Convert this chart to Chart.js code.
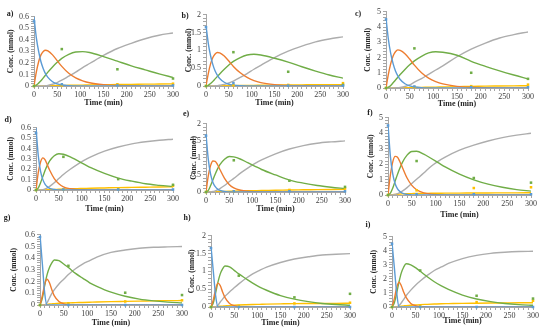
<!DOCTYPE html>
<html><head><meta charset="utf-8">
<script src="https://cdn.jsdelivr.net/npm/chart.js@4.4.0/dist/chart.umd.min.js"></script>
<style>
html,body{margin:0;padding:0;background:#fff;width:550px;height:333px;overflow:hidden;position:relative}
canvas{position:absolute}
.lbl{position:absolute;font:bold 8px "Liberation Serif";color:#222;transform:translate(-50%,-50%);white-space:nowrap}
</style></head><body>
<script>
// time grid of the model curves (min)
const T = [0,5,10,15,20,25,30,40,50,60,75,90,105,120,150,180,210,240,270,300];
// experimental sampling times (min)
const TP = [0,60,180,300];
const xTicks = [0,50,100,150,200,250,300];

// panel a
const aBlue   = [0.6,0.42,0.3,0.21,0.15,0.105,0.075,0.037,0.018,0.009,0.003,0.001,0,0,0,0,0,0,0,0];
const aOrange = [0,0.12,0.21,0.27,0.3,0.31,0.305,0.27,0.22,0.17,0.11,0.07,0.045,0.028,0.012,0.005,0.002,0.001,0,0];
const aGreen  = [0,0.008,0.025,0.045,0.07,0.095,0.12,0.165,0.205,0.24,0.275,0.295,0.298,0.29,0.255,0.215,0.175,0.14,0.105,0.075];
const aGray   = [0,0,0,0,0.001,0.002,0.005,0.015,0.03,0.05,0.085,0.12,0.16,0.195,0.265,0.325,0.37,0.41,0.44,0.46];
const aYellow = [0,0,0,0,0.001,0.001,0.002,0.003,0.004,0.005,0.006,0.007,0.008,0.01,0.011,0.013,0.014,0.016,0.017,0.018];
const aBlueP = [0.56,0.015,0.005,0.005], aGreenP = [0,0.32,0.145,0.065], aYellowP = [0,0.005,0.015,0.02];
// panel b
const bBlue   = [1.7,1.2,0.85,0.6,0.42,0.3,0.21,0.105,0.05,0.025,0.009,0.003,0.001,0,0,0,0,0,0,0];
const bOrange = [0,0.35,0.62,0.8,0.9,0.94,0.93,0.84,0.7,0.55,0.37,0.24,0.15,0.095,0.04,0.015,0.006,0.002,0,0];
const bGreen  = [0,0.02,0.07,0.13,0.2,0.27,0.34,0.47,0.59,0.69,0.8,0.87,0.89,0.87,0.78,0.67,0.54,0.42,0.31,0.22];
const bGray   = [0,0,0,0,0.005,0.01,0.02,0.045,0.085,0.14,0.24,0.35,0.47,0.58,0.8,0.98,1.12,1.24,1.32,1.38];
const bYellow = [0,0,0,0,0.001,0.002,0.003,0.005,0.007,0.009,0.012,0.015,0.018,0.02,0.025,0.03,0.033,0.036,0.038,0.04];
const bBlueP = [1.65,0.08,0.01,0.01], bGreenP = [0,0.95,0.4,0.03], bYellowP = [0,0.02,0.03,0.08];
// panel c
const cBlue   = [4.6,3.2,2.25,1.6,1.12,0.8,0.56,0.28,0.14,0.07,0.025,0.008,0.003,0.001,0,0,0,0,0,0];
const cOrange = [0,0.9,1.6,2.1,2.38,2.5,2.47,2.25,1.9,1.5,1.0,0.65,0.42,0.27,0.11,0.045,0.018,0.007,0.003,0.001];
const cGreen  = [0,0.05,0.17,0.34,0.52,0.7,0.88,1.22,1.52,1.78,2.08,2.3,2.38,2.35,2.15,1.75,1.42,1.12,0.85,0.6];
const cGray   = [0,0,0,0,0.01,0.02,0.04,0.1,0.2,0.38,0.62,0.9,1.18,1.45,2.05,2.55,2.95,3.28,3.5,3.68];
const cYellow = [0,0,0,0.002,0.004,0.006,0.01,0.015,0.02,0.03,0.04,0.05,0.06,0.07,0.09,0.1,0.12,0.13,0.14,0.15];
const cBlueP = [4.5,0.1,0.05,0.05], cGreenP = [0,2.6,1.0,0.6], cYellowP = [0,0.05,0.12,0.22];
// panel d
const dBlue   = [0.6,0.33,0.18,0.1,0.055,0.03,0.016,0.005,0.001,0,0,0,0,0,0,0,0,0,0,0];
const dOrange = [0,0.17,0.27,0.31,0.29,0.24,0.19,0.11,0.06,0.03,0.012,0.005,0.002,0.001,0,0,0,0,0,0];
const dGreen  = [0,0.02,0.07,0.13,0.19,0.24,0.28,0.33,0.35,0.345,0.32,0.285,0.25,0.215,0.16,0.115,0.085,0.06,0.045,0.033];
const dGray   = [0,0,0,0.003,0.01,0.02,0.035,0.07,0.11,0.15,0.2,0.245,0.285,0.32,0.375,0.415,0.445,0.465,0.48,0.49];
const dYellow = [0,0,0,0,0.001,0.002,0.003,0.005,0.007,0.009,0.011,0.013,0.015,0.017,0.02,0.023,0.025,0.027,0.029,0.03];
const dBlueP = [0.55,0.005,0.005,0.005], dGreenP = [0,0.32,0.105,0.05], dYellowP = [0,0.005,0.01,0.04];
// panel e
const eBlue   = [1.7,0.95,0.52,0.28,0.155,0.085,0.047,0.014,0.004,0.001,0,0,0,0,0,0,0,0,0,0];
const eOrange = [0,0.48,0.78,0.91,0.9,0.8,0.66,0.4,0.22,0.12,0.05,0.02,0.008,0.003,0,0,0,0,0,0];
const eGreen  = [0,0.05,0.19,0.36,0.53,0.68,0.8,0.96,1.04,1.03,0.96,0.86,0.76,0.66,0.5,0.35,0.26,0.19,0.14,0.1];
const eGray   = [0,0,0.005,0.015,0.035,0.06,0.1,0.19,0.3,0.4,0.56,0.7,0.83,0.94,1.12,1.26,1.36,1.43,1.47,1.5];
const eYellow = [0,0,0.001,0.003,0.005,0.008,0.01,0.015,0.02,0.025,0.03,0.035,0.04,0.045,0.05,0.06,0.065,0.07,0.075,0.08];
const eBlueP = [1.65,0.02,0.02,0.02], eGreenP = [0,0.93,0.33,0.15], eYellowP = [0,0.02,0.06,0.1];
// panel f
const fBlue   = [4.6,2.5,1.35,0.73,0.4,0.22,0.12,0.035,0.01,0.003,0,0,0,0,0,0,0,0,0,0];
const fOrange = [0,1.3,2.15,2.5,2.45,2.15,1.8,1.1,0.62,0.34,0.14,0.06,0.025,0.01,0.002,0,0,0,0,0];
const fGreen  = [0,0.12,0.45,0.9,1.35,1.75,2.1,2.58,2.82,2.83,2.65,2.38,2.1,1.82,1.35,0.98,0.7,0.5,0.35,0.25];
const fGray   = [0,0,0.01,0.04,0.09,0.16,0.25,0.48,0.75,1.02,1.42,1.85,2.18,2.45,2.9,3.23,3.5,3.72,3.88,4.0];
const fYellow = [0,0.01,0.02,0.04,0.05,0.06,0.07,0.08,0.09,0.1,0.1,0.11,0.11,0.12,0.12,0.13,0.13,0.14,0.14,0.15];
const fBlueP = [4.5,0.05,0.05,0.05], fGreenP = [0,2.2,1.1,0.8], fYellowP = [0,0.3,0.45,0.5];
// panel g
const gBlue   = [0.6,0.35,0.1,0,0,0,0,0,0,0,0,0,0,0,0,0,0,0,0,0];
const gOrange = [0,0.08,0.18,0.22,0.19,0.13,0.08,0.03,0.01,0.003,0,0,0,0,0,0,0,0,0,0];
const gGreen  = [0,0.06,0.17,0.26,0.32,0.36,0.385,0.38,0.35,0.32,0.27,0.23,0.19,0.16,0.11,0.075,0.05,0.035,0.025,0.018];
const gGray   = [0,0,0,0.02,0.06,0.1,0.13,0.18,0.22,0.26,0.31,0.35,0.38,0.41,0.45,0.47,0.485,0.493,0.497,0.5];
const gYellow = [0,0.001,0.003,0.005,0.008,0.01,0.012,0.015,0.017,0.018,0.02,0.022,0.024,0.026,0.029,0.031,0.033,0.035,0.037,0.038];
const gBlueP = [0.58,0,0,0], gGreenP = [0,0.335,0.105,0.085], gYellowP = [0,0.015,0.03,0.04];
// panel h
const hBlue   = [1.7,1.0,0.32,0,0,0,0,0,0,0,0,0,0,0,0,0,0,0,0,0];
const hOrange = [0,0.2,0.5,0.67,0.6,0.42,0.27,0.1,0.04,0.015,0.005,0,0,0,0,0,0,0,0,0];
const hGreen  = [0,0.12,0.4,0.7,0.93,1.07,1.15,1.13,1.03,0.93,0.8,0.67,0.56,0.47,0.32,0.22,0.15,0.1,0.07,0.05];
const hGray   = [0,0,0,0.05,0.14,0.22,0.3,0.42,0.54,0.65,0.8,0.93,1.03,1.12,1.25,1.35,1.41,1.46,1.48,1.5];
const hYellow = [0,0.005,0.01,0.015,0.02,0.025,0.03,0.04,0.048,0.055,0.063,0.07,0.075,0.08,0.088,0.095,0.098,0.1,0.103,0.105];
const hBlueP = [1.65,0,0,0], hGreenP = [0,0.88,0.27,0.37], hYellowP = [0,0.03,0.1,0.12];
// panel i
const iBlue   = [4.6,2.8,1.0,0,0,0,0,0,0,0,0,0,0,0,0,0,0,0,0,0];
const iOrange = [0,0.6,1.4,1.77,1.5,1.05,0.68,0.25,0.09,0.03,0.01,0,0,0,0,0,0,0,0,0];
const iGreen  = [0,0.3,1.0,1.8,2.45,2.85,3.08,3.0,2.8,2.55,2.15,1.8,1.5,1.25,0.85,0.57,0.38,0.25,0.17,0.12];
const iGray   = [0,0,0,0.1,0.3,0.55,0.8,1.2,1.55,1.85,2.25,2.6,2.85,3.1,3.45,3.68,3.82,3.9,3.95,3.97];
const iYellow = [0,0.01,0.02,0.04,0.06,0.08,0.1,0.12,0.15,0.17,0.19,0.21,0.23,0.24,0.26,0.27,0.28,0.29,0.3,0.3];
const iBlueP = [4.5,0,0,0], iGreenP = [0,2.6,0.8,0.6], iYellowP = [0,0.05,0.35,0.45];

const labels = ['a)','b)','c)','d)','e)','f)','g)','h)','i)'];
const yMaxes = [0.6,2,5,0.6,2,5,0.6,2,5];
const yMajor = [0.1,0.5,1,0.1,0.5,1,0.1,0.5,1];
const yTitle = 'Conc. (mmol)';
const xTitle = 'Time (min)';

const series = [
 [aBlue,aOrange,aGreen,aGray,aYellow,aBlueP,aGreenP,aYellowP],
 [bBlue,bOrange,bGreen,bGray,bYellow,bBlueP,bGreenP,bYellowP],
 [cBlue,cOrange,cGreen,cGray,cYellow,cBlueP,cGreenP,cYellowP],
 [dBlue,dOrange,dGreen,dGray,dYellow,dBlueP,dGreenP,dYellowP],
 [eBlue,eOrange,eGreen,eGray,eYellow,eBlueP,eGreenP,eYellowP],
 [fBlue,fOrange,fGreen,fGray,fYellow,fBlueP,fGreenP,fYellowP],
 [gBlue,gOrange,gGreen,gGray,gYellow,gBlueP,gGreenP,gYellowP],
 [hBlue,hOrange,hGreen,hGray,hYellow,hBlueP,hGreenP,hYellowP],
 [iBlue,iOrange,iGreen,iGray,iYellow,iBlueP,iGreenP,iYellowP]
];

// layout: plot-area left/right/top/bottom, y-title x, x-title y, panel label x/y
const geo = [
 {L:34,R:173,T:15,B:86,yt:12,xt:103,lx:10,ly:13},
 {L:206,R:343,T:13,B:86,yt:190,xt:103,lx:185,ly:15},
 {L:386,R:528,T:10,B:88,yt:369,xt:104,lx:358,ly:13},
 {L:36,R:173,T:126,B:190,yt:12,xt:209,lx:8,ly:119},
 {L:206,R:345,T:122,B:192,yt:195,xt:209,lx:186,ly:113},
 {L:388,R:531,T:116,B:195,yt:372,xt:215,lx:370,ly:112},
 {L:40,R:182,T:233,B:305,yt:15,xt:323,lx:7,ly:217},
 {L:211,R:350,T:234,B:307,yt:193,xt:323,lx:187,ly:217},
 {L:392,R:533,T:235,B:307,yt:375,xt:321,lx:368,ly:224}
];

const COL = {blue:'#5B9BD5',orange:'#ED7D31',green:'#70AD47',gray:'#ADADAD',yellow:'#FFC000'};
const FONT = 'Liberation Serif';

function lineDs(arr,color){
  return {type:'line',data:T.map((t,i)=>({x:t,y:arr[i]})),borderColor:color,borderWidth:1.4,
    pointRadius:0,cubicInterpolationMode:'monotone',fill:false,order:5};
}
function ptDs(arr,color){
  return {type:'line',data:TP.map((t,i)=>({x:t,y:arr[i]})),showLine:false,pointStyle:'rect',clip:false,
    pointRadius:1.8,pointBackgroundColor:color,pointBorderColor:color,pointBorderWidth:0,order:1};
}

geo.forEach((p,k)=>{
  const padT=5,padR=8;
  const cl = Math.round(p.yt - 5);
  const ct = p.T - padT;
  const yW = p.L - cl;
  const xH = p.xt + 5 - p.B;
  const cw = Math.round(p.R + padR - cl);
  const ch = Math.round(p.B + xH - ct);
  const c = document.createElement('canvas');
  c.width=cw; c.height=ch;
  c.style.left=cl+'px'; c.style.top=ct+'px'; c.style.width=cw+'px'; c.style.height=ch+'px';
  document.body.appendChild(c);
  const s = series[k];
  const major = yMajor[k];
  new Chart(c,{
    data:{datasets:[
      ptDs(s[5],COL.blue), ptDs(s[6],COL.green), ptDs(s[7],COL.yellow),
      lineDs(s[0],COL.blue), lineDs(s[1],COL.orange), lineDs(s[2],COL.green),
      lineDs(s[3],COL.gray), lineDs(s[4],COL.yellow)
    ]},
    options:{
      responsive:false, animation:false, devicePixelRatio:1,
      layout:{padding:{left:0,top:padT,right:padR,bottom:0}},
      plugins:{legend:{display:false},tooltip:{enabled:false}},
      scales:{
        x:{type:'linear',min:0,max:300,
          ticks:{stepSize:10,autoSkip:false,maxRotation:0,padding:1,color:'#404040',
            font:{family:FONT,size:8},
            callback:v=> xTicks.includes(v) ? String(v) : ''},
          grid:{display:true,drawOnChartArea:false,tickLength:3,color:'#a6a6a6'},
          border:{color:'#a6a6a6'},
          title:{display:true,text:xTitle,color:'#262626',padding:0,
            font:{family:FONT,size:8,weight:'bold'}},
          afterFit:sc=>{sc.height=xH;}
        },
        y:{type:'linear',min:0,max:yMaxes[k],
          ticks:{stepSize:major/5,autoSkip:false,padding:2,color:'#404040',
            font:{family:FONT,size:8},
            callback:v=>{const r=v/major; return Math.abs(r-Math.round(r))<1e-6 ? String(parseFloat((Math.round(r)*major).toFixed(2))) : '';}},
          grid:{display:true,drawOnChartArea:false,tickLength:3,color:'#a6a6a6'},
          border:{color:'#a6a6a6'},
          title:{display:true,text:yTitle,color:'#262626',padding:0,
            font:{family:FONT,size:7.5,weight:'bold'}},
          afterFit:sc=>{sc.width=yW;}
        }
      }
    }
  });
  const d = document.createElement('div');
  d.className='lbl'; d.textContent=labels[k];
  d.style.left=p.lx+'px'; d.style.top=p.ly+'px';
  document.body.appendChild(d);
});
</script>
</body></html>
